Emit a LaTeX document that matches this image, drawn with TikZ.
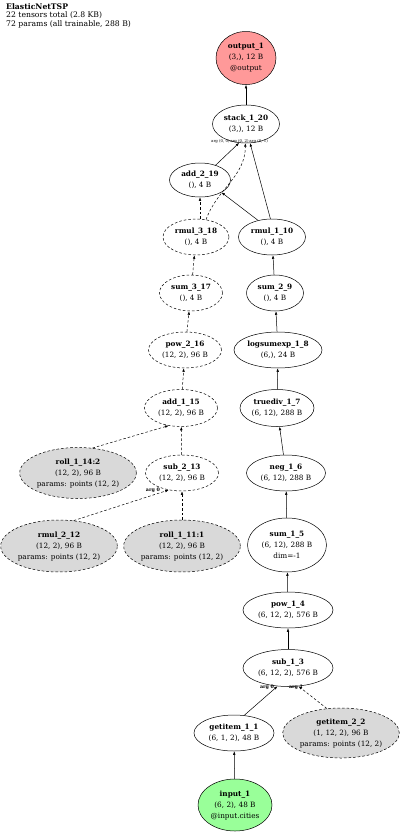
\documentclass[tikz,border=0pt]{standalone}
\usepackage{fontspec}
\setmainfont{DejaVu Serif}
\usetikzlibrary{shapes.geometric,arrows.meta}
\definecolor{outred}{HTML}{FF9999}
\definecolor{ingreen}{HTML}{99FF99}
\definecolor{pgrey}{HTML}{D9D9D9}
\begin{document}
\begin{tikzpicture}[x=1pt,y=-1pt,
  op/.style={ellipse,draw,line width=0.5pt,inner sep=0pt,align=center,
    font=\fontsize{7.3}{11}\selectfont},
  dsh/.style={dash pattern=on 2.6pt off 2pt},
  par/.style={op,dsh,fill=pgrey},
  edge/.style={line width=0.5pt,-{Latex[length=3.5pt,width=2.6pt]}},
  lbl/.style={font=\fontsize{3.9}{4.5}\selectfont,inner sep=0pt},
  lblb/.style={font=\fontsize{4.8}{5}\selectfont\bfseries,inner sep=0pt}]
\useasboundingbox[fill=white] (0,0) rectangle (400,835);
\node[anchor=north west,align=left,inner sep=0pt,font=\fontsize{7.7}{8.7}\selectfont] (title) at (6,3)
  {\textbf{ElasticNetTSP}\\22 tensors total (2.8 KB)\\72 params (all trainable, 288 B)};

\node[op,fill=outred,minimum width=60pt,minimum height=53pt] (output) at (246,58) {\textbf{output\_1}\\(3,), 12 B\\@output};
\node[op,minimum width=67pt,minimum height=38pt] (stack) at (246,124) {\textbf{stack\_1\_20}\\(3,), 12 B};
\node[op,minimum width=61pt,minimum height=34pt] (add219) at (200,180) {\textbf{add\_2\_19}\\(), 4 B};
\node[op,dsh,minimum width=66pt,minimum height=36pt] (rmul318) at (196,237) {\textbf{rmul\_3\_18}\\(), 4 B};
\node[op,minimum width=67pt,minimum height=36pt] (rmul110) at (272,237) {\textbf{rmul\_1\_10}\\(), 4 B};
\node[op,dsh,minimum width=63pt,minimum height=36pt] (sum317) at (191,293) {\textbf{sum\_3\_17}\\(), 4 B};
\node[op,minimum width=57pt,minimum height=36pt] (sum29) at (275,293) {\textbf{sum\_2\_9}\\(), 4 B};
\node[op,dsh,minimum width=73pt,minimum height=36pt] (pow216) at (185,350) {\textbf{pow\_2\_16}\\(12, 2), 96 B};
\node[op,minimum width=88pt,minimum height=36pt] (lse) at (278,350) {\textbf{logsumexp\_1\_8}\\(6,), 24 B};
\node[op,dsh,minimum width=73pt,minimum height=37pt] (add115) at (181,408) {\textbf{add\_1\_15}\\(12, 2), 96 B};
\node[op,minimum width=74pt,minimum height=37pt] (truediv) at (277,408) {\textbf{truediv\_1\_7}\\(6, 12), 288 B};
\node[par,minimum width=114pt,minimum height=51pt] (roll114) at (78,473) {\textbf{roll\_1\_14:2}\\(12, 2), 96 B\\params: points (12, 2)};
\node[op,dsh,minimum width=73pt,minimum height=36pt] (sub213) at (182,473) {\textbf{sub\_2\_13}\\(12, 2), 96 B};
\node[op,minimum width=79pt,minimum height=36pt] (neg) at (286,473) {\textbf{neg\_1\_6}\\(6, 12), 288 B};
\node[par,minimum width=114pt,minimum height=52pt] (rmul212) at (59,546) {\textbf{rmul\_2\_12}\\(12, 2), 96 B\\params: points (12, 2)};
\node[par,minimum width=114pt,minimum height=52pt] (roll111) at (182,546) {\textbf{roll\_1\_11:1}\\(12, 2), 96 B\\params: points (12, 2)};
\node[op,minimum width=79pt,minimum height=54pt] (sum15) at (287,545) {\textbf{sum\_1\_5}\\(6, 12), 288 B\\dim=-1};
\node[op,minimum width=90pt,minimum height=36pt] (pow14) at (288,610) {\textbf{pow\_1\_4}\\(6, 12, 2), 576 B};
\node[op,minimum width=90pt,minimum height=37pt] (sub13) at (288,668) {\textbf{sub\_1\_3}\\(6, 12, 2), 576 B};
\node[op,minimum width=80pt,minimum height=36pt] (getitem11) at (234,733) {\textbf{getitem\_1\_1}\\(6, 1, 2), 48 B};
\node[par,minimum width=114pt,minimum height=50pt] (getitem22) at (341,733) {\textbf{getitem\_2\_2}\\(1, 12, 2), 96 B\\params: points (12, 2)};
\node[op,fill=ingreen,minimum width=74pt,minimum height=52pt] (input) at (235,805) {\textbf{input\_1}\\(6, 2), 48 B\\@input.cities};

\draw[edge] (stack) -- (output);
\draw[edge] (add219) -- (stack.250);
\draw[edge,dsh] (rmul318.60) to[out=70,in=-90] (stack.268);
\draw[edge] (rmul110.95) -- (stack.282);
\draw[edge,dsh] (rmul318.north -| add219.south) -- (add219);
\draw[edge] (rmul110.130) -- (add219.330);
\draw[edge,dsh] (sum317) -- (rmul318);
\draw[edge] (sum29) -- (rmul110);
\draw[edge,dsh] (pow216) -- (sum317);
\draw[edge] (lse) -- (sum29);
\draw[edge,dsh] (add115) -- (pow216);
\draw[edge] (truediv) -- (lse);
\draw[edge,dsh] (roll114.60) -- (add115.235);
\draw[edge,dsh] (sub213) -- (add115);
\draw[edge] (neg) -- (truediv);
\draw[edge,dsh] (rmul212.60) -- (sub213.232);
\draw[edge,dsh] (roll111) -- (sub213);
\draw[edge] (sum15) -- (neg);
\draw[edge] (pow14) -- (sum15);
\draw[edge] (sub13) -- (pow14);
\draw[edge] (getitem11.60) -- (sub13.240);
\draw[edge,dsh] (getitem22.120) -- (sub13.300);
\draw[edge] (input) -- (getitem11);

\node[lbl,anchor=west] (l1) at (211,141) {arg (0, 0)};
\node[lbl] (l2) at (239.5,141) {arg (0, 2)};
\node[lbl,anchor=east] (l3) at (268,141) {arg (0, 1)};
\node[lblb] (l4) at (153,490) {arg 0};
\node[lblb] (l5) at (267,687) {arg 0};
\node[lblb] (l6) at (296,687) {arg 1};
\end{tikzpicture}
\end{document}
